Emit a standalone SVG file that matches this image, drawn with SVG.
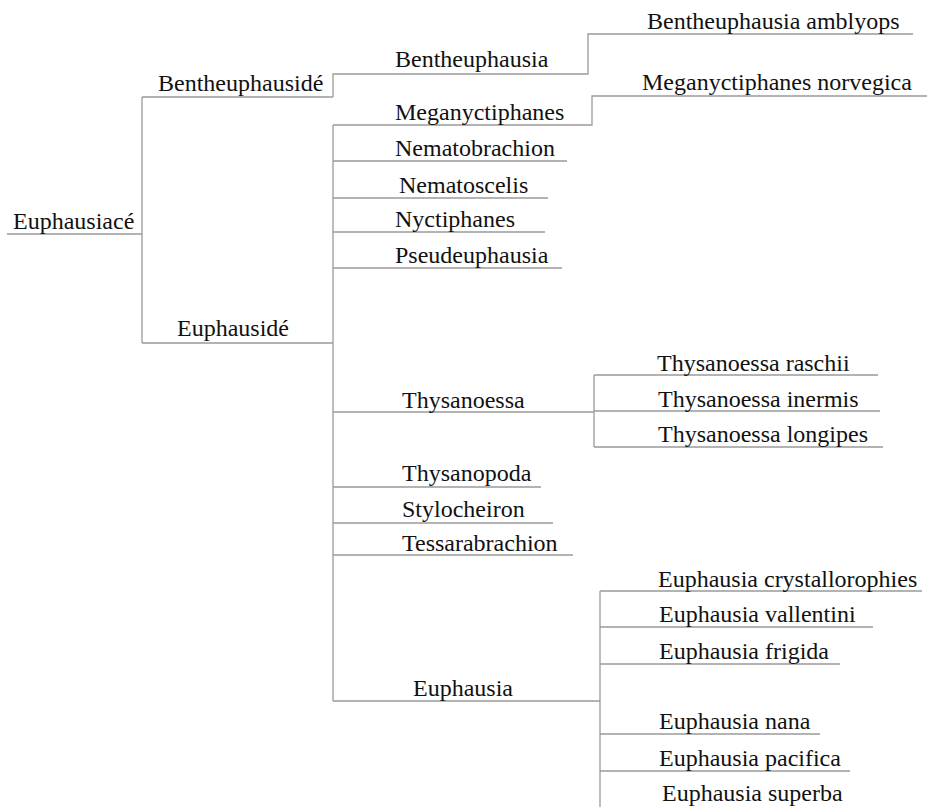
<svg xmlns="http://www.w3.org/2000/svg" width="927" height="807" viewBox="0 0 927 807">
<style>
text{font-family:"Liberation Serif","Times New Roman",serif;font-size:24px;fill:#111}
.c path{fill:none;stroke:#9a9a9a;stroke-width:1.3}
</style>
<rect width="927" height="807" fill="#fff"/>
<g class="c" id="connectors">
<path d="M7 234H142M142 97V343M142 97H333M142 343H333"/>
<path d="M333 97V74H588V34H913"/>
<path d="M333 125V701M333 125H592V96H927"/>
<path d="M333 161H567M333 198H548M333 232H545M333 268H562"/>
<path d="M333 412H594M594 375V447M594 375H878M594 411H880M594 447H883"/>
<path d="M333 487H541M333 523H553M333 555H573"/>
<path d="M333 701H600M600 591V807M600 591H922M600 627H873M600 664H840M600 734H820M600 771H850"/>
</g>
<g id="n-euphausiace"><text x="13" y="229">Euphausiacé</text></g>
<g id="n-bentheuphauside"><text x="158" y="91">Bentheuphausidé</text></g>
<g id="n-euphauside"><text x="177" y="336">Euphausidé</text></g>
<g id="n-bentheuphausia"><text x="395" y="67">Bentheuphausia</text></g>
<g id="n-bentheuphausia-amblyops"><text x="647" y="29">Bentheuphausia amblyops</text></g>
<g id="n-meganyctiphanes"><text x="395" y="120">Meganyctiphanes</text></g>
<g id="n-meganyctiphanes-norvegica"><text x="642" y="90">Meganyctiphanes norvegica</text></g>
<g id="n-nematobrachion"><text x="395" y="156">Nematobrachion</text></g>
<g id="n-nematoscelis"><text x="399" y="193">Nematoscelis</text></g>
<g id="n-nyctiphanes"><text x="395" y="227">Nyctiphanes</text></g>
<g id="n-pseudeuphausia"><text x="395" y="263">Pseudeuphausia</text></g>
<g id="n-thysanoessa"><text x="402" y="408">Thysanoessa</text></g>
<g id="n-thysanoessa-raschii"><text x="657" y="371">Thysanoessa raschii</text></g>
<g id="n-thysanoessa-inermis"><text x="658" y="407">Thysanoessa inermis</text></g>
<g id="n-thysanoessa-longipes"><text x="658" y="442">Thysanoessa longipes</text></g>
<g id="n-thysanopoda"><text x="402" y="481">Thysanopoda</text></g>
<g id="n-stylocheiron"><text x="402" y="517">Stylocheiron</text></g>
<g id="n-tessarabrachion"><text x="402" y="551">Tessarabrachion</text></g>
<g id="n-euphausia"><text x="413" y="696">Euphausia</text></g>
<g id="n-euphausia-crystallorophies"><text x="658" y="587">Euphausia crystallorophies</text></g>
<g id="n-euphausia-vallentini"><text x="659" y="622">Euphausia vallentini</text></g>
<g id="n-euphausia-frigida"><text x="659" y="659">Euphausia frigida</text></g>
<g id="n-euphausia-nana"><text x="659" y="729">Euphausia nana</text></g>
<g id="n-euphausia-pacifica"><text x="659" y="766">Euphausia pacifica</text></g>
<g id="n-euphausia-superba"><text x="662" y="801">Euphausia superba</text></g>
</svg>
